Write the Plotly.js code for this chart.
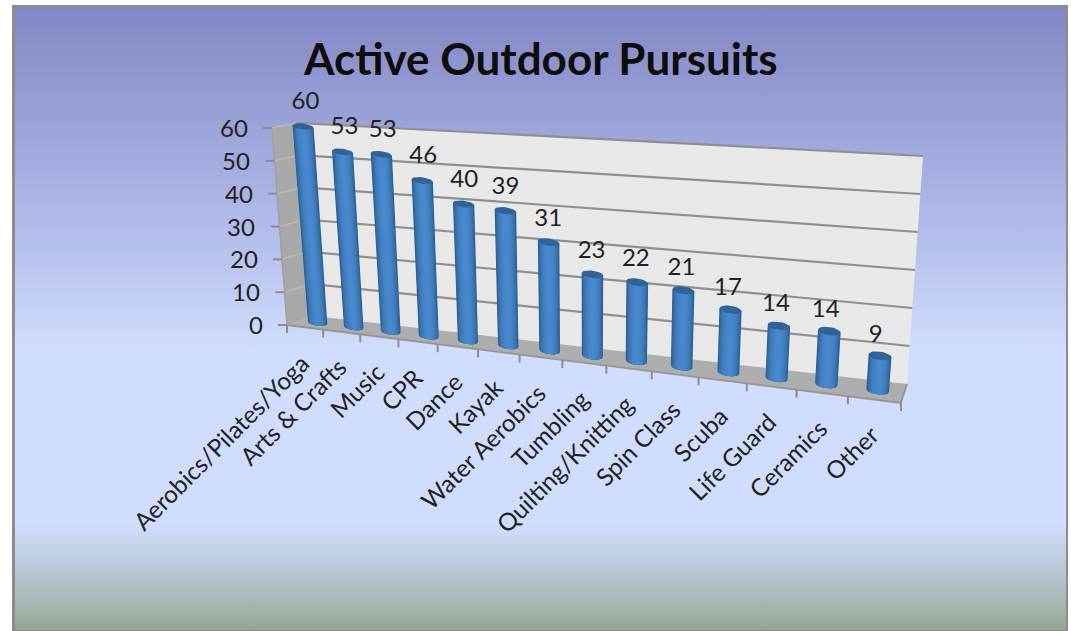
<!DOCTYPE html>
<html>
<head>
<meta charset="utf-8">
<script src="https://cdn.plot.ly/plotly-3.0.1.min.js"></script>
<style>
html,body{margin:0;padding:0;background:#fff;width:1071px;height:631px;overflow:hidden}
#frame{position:absolute;left:12px;top:5px;width:1056px;height:626px;box-sizing:border-box;
 border:solid #8c8c8c;border-width:2px 2px 1px 3px;
 background:linear-gradient(to bottom,#8386c4 0%,#9da4da 20%,#b5bfec 38%,#d1ddfe 55%,#d1ddfe 83%,#b9c8d6 90%,#a6b6b0 96%,#94a692 100%)}
#chart{position:absolute;left:0;top:0;width:1071px;height:631px}
</style>
</head>
<body>
<div id="frame"></div>
<div id="chart"></div>
<script>
const categories = ['Aerobics/Pilates/Yoga','Arts & Crafts','Music','CPR','Dance','Kayak','Water Aerobics','Tumbling','Quilting/Knitting','Spin Class','Scuba','Life Guard','Ceramics','Other'];
const values = [60,53,53,46,40,39,31,23,22,21,17,14,14,9];
const yTicks = [0,10,20,30,40,50,60];
const titleText = 'Active Outdoor Pursuits';

const font = 'Lato, Carlito, Calibri, sans-serif';
const n = categories.length, vMax = 60;
const lerp = (a,b,t)=>a+(b-a)*t;
const mix = (p,q,t)=>[lerp(p[0],q[0],t),lerp(p[1],q[1],t)];
// view of the 3-D box on the page
const FL=[287,325], FR=[901,403], BL=[313,316], BR=[907,384];
const FLT=[272,128], FRT=[919,168], BLT=[297,123], BRT=[923,156];
const W=1.23;
const persp = c => { const t=c/n; return t/(t+W*(1-t)); };
// c: category position, v: value, d: 0 back .. 1 front
function P(c,v,d){
  const s=persp(c), u=v/vMax;
  const bb=mix(BL,BR,s), bt=mix(BLT,BRT,s), fb=mix(FL,FR,s), ft=mix(FLT,FRT,s);
  return mix(mix(bb,bt,u),mix(fb,ft,u),d);
}
const traces=[];
function poly(pts,color){
  traces.push({type:'scatter',mode:'lines',x:pts.map(p=>p[0]),y:pts.map(p=>p[1]),fill:'toself',fillcolor:color,line:{width:0},hoverinfo:'skip',showlegend:false});
}
function lines(segs,color,width){
  const x=[],y=[];
  segs.forEach(s=>{s.forEach(p=>{x.push(p[0]);y.push(p[1]);});x.push(null);y.push(null);});
  traces.push({type:'scatter',mode:'lines',x,y,line:{color,width},hoverinfo:'skip',showlegend:false});
}
// walls and floor
poly([FL,FLT,BLT,BL],'#a8a8a8');
poly([BL,BLT,BRT,BR],'#e8e8e8');
poly([FL,BL,BR,FR],'#adadad');
lines(yTicks.filter(v=>v>0).map(v=>[P(0,v,1),P(0,v,0)]),'#b8b8b8',1.5);
lines(yTicks.filter(v=>v>0).map(v=>[P(0,v,0),P(n,v,0)]),'#8f8f8f',2.2);
lines([[FL,FR],[FR,BR]],'#969696',1.8);
lines([[FL,FLT]],'#a0a0a0',1.5);
// axis tick marks
lines(yTicks.map(v=>{const p=P(0,v,1);return [p,[p[0]-9,p[1]]];}),'#8c8c8c',2);
const xt=[];
for(let c=0;c<=n;c++){const p=P(c,0,1);xt.push([p,[p[0],p[1]+8]]);}
lines(xt,'#8c8c8c',2);

// cylinders: nested shades, darkest outside
const levels=[1,.94,.86,.76,.66,.56,.46,.36,.26,.16];
const shades=['#2d5c93','#31659c','#356ea8','#3a76b3','#3e7cbb','#417fc1','#4483c5','#4685c8','#4887ca','#4988cb'];
const K=78/614;
const geom=values.map((v,i)=>{
  const c=i+.5, s=persp(c);
  const b=P(c,0,.5), t=P(c,v,.5);
  const rb=lerp(9.6,11.4,s), rt=rb+lerp(.9,.6,s)*(v/vMax);
  return {b,t,rb,rt,mb:lerp(3,4,s),mt:lerp(3,4.3,s),s};
});
levels.forEach((f,li)=>{
  const xs=[],ys=[];
  geom.forEach(g=>{
    xs.push(g.t[0]-f*g.rt); ys.push(g.t[1]-K*f*g.rt);
    for(let j=0;j<=16;j++){
      const q=-f+2*f*j/16;
      xs.push(g.b[0]+q*g.rb);
      ys.push(g.b[1]+g.mb*Math.sqrt(Math.max(0,1-q*q))+K*q*g.rb);
    }
    xs.push(g.t[0]+f*g.rt); ys.push(g.t[1]+K*f*g.rt);
    xs.push(xs[xs.length-1]); ys.push(ys[ys.length-1]);
    xs.push(null); ys.push(null);
  });
  traces.push({type:'scatter',mode:'lines',x:xs,y:ys,fill:'toself',fillcolor:shades[li],line:{width:0},hoverinfo:'skip',showlegend:false});
});
// top caps
(function(){
  const xs=[],ys=[];
  geom.forEach(g=>{
    for(let j=0;j<=28;j++){
      const a=2*Math.PI*j/28;
      xs.push(g.t[0]+g.rt*Math.cos(a));
      ys.push(g.t[1]+g.mt*Math.sin(a)+K*g.rt*Math.cos(a));
    }
    xs.push(null);ys.push(null);
  });
  traces.push({type:'scatter',mode:'lines',x:xs,y:ys,fill:'toself',fillcolor:'#316299',line:{width:0},hoverinfo:'skip',showlegend:false});
})();
// data labels
traces.push({type:'scatter',mode:'text',
  x:geom.map(g=>g.t[0]+lerp(2.5,-4.5,g.s)),
  y:geom.map(g=>g.t[1]-lerp(24,20,g.s)),
  text:values.map(String),textposition:'middle center',
  textfont:{family:font,size:24,color:'#222222'},hoverinfo:'skip',showlegend:false});

const annotations=[];
annotations.push({text:'<b>'+titleText+'</b>',x:540.5,y:58,xref:'x',yref:'y',xanchor:'center',yanchor:'middle',showarrow:false,font:{family:font,size:44,color:'#0d0d0d'}});
yTicks.forEach(v=>{
  const p=P(0,v,1);
  annotations.push({text:String(v),x:p[0]-22.5,y:p[1]-0.5,xref:'x',yref:'y',xanchor:'right',yanchor:'middle',showarrow:false,font:{family:font,size:24,color:'#222222'}});
});
categories.forEach((name,i)=>{
  const p=P(i+.5,0,1);
  annotations.push({text:name,x:p[0]+13,y:p[1]+18,xref:'x',yref:'y',xanchor:'right',yanchor:'top',textangle:-45,showarrow:false,font:{family:font,size:24.3,color:'#222222'}});
});

Plotly.newPlot('chart',traces,{
  width:1071,height:631,margin:{l:0,r:0,t:0,b:0},
  paper_bgcolor:'rgba(0,0,0,0)',plot_bgcolor:'rgba(0,0,0,0)',showlegend:false,
  xaxis:{range:[0,1071],visible:false,fixedrange:true},
  yaxis:{range:[631,0],visible:false,fixedrange:true},
  annotations
},{displayModeBar:false,staticPlot:true});
</script>
</body>
</html>
